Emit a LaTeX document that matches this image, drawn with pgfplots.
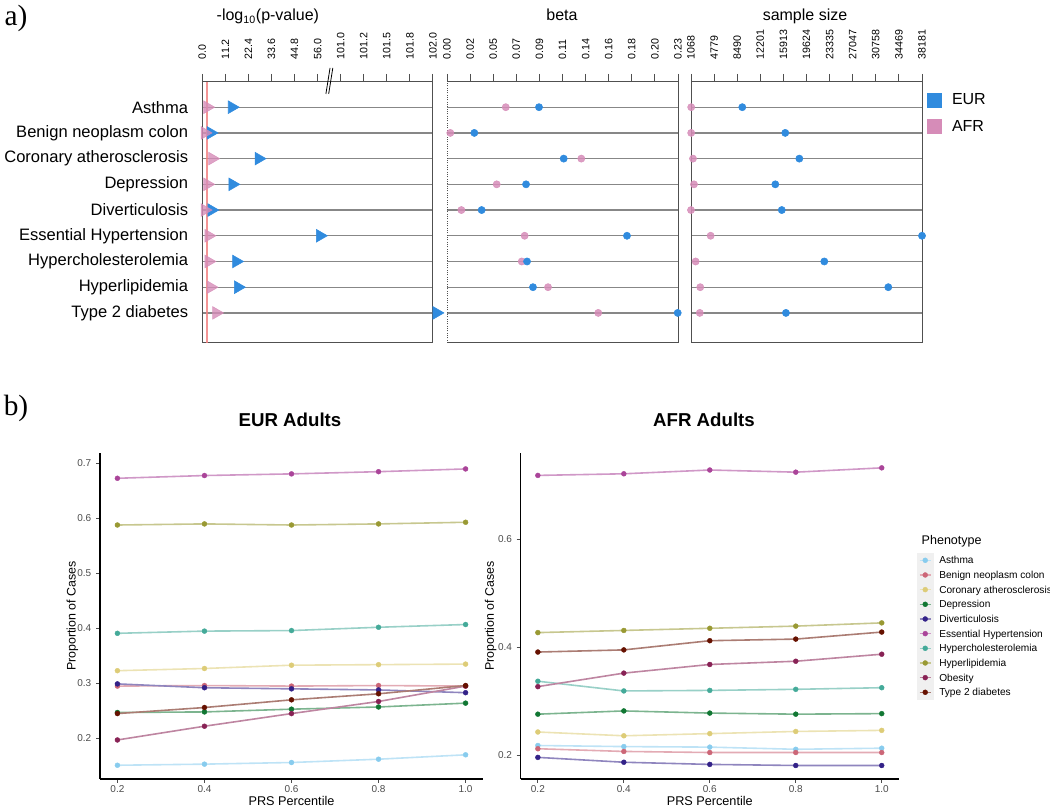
\documentclass[border=0pt]{standalone}
\usepackage{pgfplots}
\pgfplotsset{compat=1.18}
\usepackage{pgfplotstable}
\usepackage{fontspec}
\setmainfont{Liberation Sans}
\newfontfamily\serifa{Liberation Serif}
\newcommand\fs[1]{\fontsize{#1}{#1}\selectfont}
\definecolor{eurblue}{RGB}{48,139,222}
\definecolor{afrpink}{RGB}{214,140,184}
\definecolor{thr}{RGB}{242,130,130}
\definecolor{cA}{HTML}{88CCEE}
\definecolor{cB}{HTML}{CC6677}
\definecolor{cC}{HTML}{DDCC77}
\definecolor{cD}{HTML}{117733}
\definecolor{cE}{HTML}{332288}
\definecolor{cF}{HTML}{AA4499}
\definecolor{cG}{HTML}{44AA99}
\definecolor{cH}{HTML}{999933}
\definecolor{cI}{HTML}{882255}
\definecolor{cJ}{HTML}{661100}
\definecolor{gridc}{RGB}{135,135,135}
\definecolor{boxc}{RGB}{80,80,80}

% y: 9 = Asthma ... 1 = Type 2 diabetes
\pgfplotstableread{
y peur pafr beur bafr neur nafr
9 14.4 2.5 0.0916 0.0585 9307 1100
8 4.1 1.2 0.0272 0.0033 16210 1100
7 27.4 4.9 0.1162 0.1337 18474 1390
6 14.7 2.5 0.0787 0.0495 14614 1550
5 4.5 1.2 0.0345 0.0143 15653 1068
4 57.2 3.1 0.1792 0.0773 38181 4223
3 16.5 3.1 0.0797 0.0744 22482 1810
2 17.4 4.1 0.0856 0.1006 32763 2553
1 102.04 6.8 0.2297 0.1506 16321 2478
}\topdata

\pgfplotstableread{
x a b c d e f g h i j
0.2 0.151 0.295 0.323 0.247 0.299 0.673 0.391 0.588 0.197 0.245
0.4 0.153 0.296 0.327 0.248 0.292 0.678 0.395 0.590 0.222 0.256
0.6 0.156 0.295 0.333 0.253 0.290 0.681 0.396 0.588 0.245 0.270
0.8 0.162 0.296 0.334 0.257 0.288 0.685 0.402 0.590 0.267 0.281
1.0 0.170 0.295 0.335 0.264 0.283 0.690 0.407 0.593 0.295 0.296
}\eur

\pgfplotstableread{
x a b c d e f g h i j
0.2 0.218 0.212 0.243 0.276 0.196 0.718 0.337 0.427 0.327 0.391
0.4 0.216 0.207 0.236 0.282 0.187 0.721 0.319 0.431 0.352 0.395
0.6 0.215 0.205 0.240 0.278 0.183 0.728 0.320 0.435 0.368 0.412
0.8 0.211 0.205 0.244 0.276 0.181 0.724 0.322 0.439 0.374 0.415
1.0 0.213 0.205 0.246 0.277 0.181 0.732 0.325 0.445 0.387 0.428
}\afr

\pgfplotsset{
  toppanel/.style={
    scale only axis, width=173.25pt, height=195.75pt, anchor=south west,
    ymin=-0.17, ymax=9.98, ytick={1,...,9},
    ymajorgrids, grid style={gridc, line width=0.95pt},
    major y tick style={draw=none},
    axis line style={boxc, line width=0.75pt},
    xtick pos=upper, xticklabel pos=upper,
    tick align=outside, major tick length=6pt,
    major x tick style={boxc, line width=0.75pt},
    xticklabel shift=11pt,
    xticklabel style={rotate=90, anchor=west, inner sep=0pt, font=\fs{8}},
    scaled x ticks=false,
    clip=false,
    /pgf/number format/assume math mode=true,
  },
  pl/.style={draw=#1!55!white, line width=1.2pt, mark=*, mark size=1.85pt,
    mark options={draw=#1, fill=#1, line width=0.3pt}},
  botpanel/.style={
    scale only axis, anchor=south west,
    axis lines*=left, axis line style={-, black, line width=0.8pt},
    tick align=outside, major tick length=3pt, tick style={black!70, line width=0.6pt},
    xmin=0.16, xmax=1.04, xtick={0.2,0.4,0.6,0.8,1.0},
    ticklabel style={font=\fs{7.5}, text=black!70},
    xticklabel style={yshift=1.5pt, /pgf/number format/.cd, fixed, fixed zerofill, precision=1},
    yticklabel style={/pgf/number format/.cd, fixed, fixed zerofill, precision=1},
    /pgf/number format/assume math mode=true,
    xlabel={PRS Percentile}, ylabel={Proportion of Cases},
    xlabel style={font=\fs{9.5}, at={(axis description cs:0.5,-0.066)}, anchor=center},
    ylabel style={font=\fs{9.3}},
    clip=false,
  },
}

\begin{document}
\begin{tikzpicture}
\path[use as bounding box] (0,0) rectangle (787.5pt,604.5pt);

\node[font=\serifa\fs{22}] at (12pt,591pt) {a)};
\node[font=\serifa\fs{22}] at (12pt,298.5pt) {b)};
\node[font=\fs{12}, anchor=base west] at (159pt,589pt) {-log\textsubscript{10}(p-value)};
\node[font=\fs{12}, anchor=base] at (421.5pt,589pt) {beta};
\node[font=\fs{12}, anchor=base] at (603.75pt,589pt) {sample size};

% Panel 1: -log10(p-value), broken axis plotted on index scale
\begin{axis}[toppanel, at={(151.7pt,347.25pt)}, width=173pt,
  xmin=0, xmax=10, xtick={0,...,10},
  xticklabels={0.0,11.2,22.4,33.6,44.8,56.0,101.0,101.2,101.5,101.8,102.0},
  yticklabels={Type 2 diabetes,Hyperlipidemia,Hypercholesterolemia,Essential Hypertension,Diverticulosis,Depression,Coronary atherosclerosis,Benign neoplasm colon,Asthma},
  yticklabel style={font=\fs{12.4}, anchor=east, inner sep=0pt, xshift=-4.4pt},
]
\addplot[only marks, color=eurblue, mark=triangle*, mark size=5.5pt, mark options={rotate=-90}]
  table[x expr={\thisrow{peur}<80 ? \thisrow{peur}/11.2 : 6+(\thisrow{peur}-101)/0.25}, y=y] {\topdata};
\addplot[only marks, color=afrpink, opacity=0.8, mark=triangle*, mark size=5.5pt, mark options={rotate=-90}]
  table[x expr={\thisrow{pafr}<80 ? \thisrow{pafr}/11.2 : 6+(\thisrow{pafr}-101)/0.25}, y=y] {\topdata};
\addplot[thr, line width=1.5pt, opacity=0.85] coordinates {(0.1875,-0.17) (0.1875,9.98)};
\draw[black, line width=0.6pt] (axis cs:5.36,9.515) -- (axis cs:5.54,10.53);
\draw[black, line width=0.6pt] (axis cs:5.48,9.515) -- (axis cs:5.66,10.53);
\end{axis}

% Panel 2: beta
\begin{axis}[toppanel, at={(335.25pt,347.25pt)},
  xmin=0, xmax=0.23,
  xtick={0,0.023,0.046,0.069,0.092,0.115,0.138,0.161,0.184,0.207,0.23},
  xticklabels={0.00,0.02,0.05,0.07,0.09,0.11,0.14,0.16,0.18,0.20,0.23},
  yticklabels={}, axis line style={draw=none},
]
\draw[boxc, line width=0.75pt] (rel axis cs:0,1) -- (rel axis cs:1,1) -- (rel axis cs:1,0) -- (rel axis cs:0,0);
\draw[boxc, line width=0.75pt, densely dotted] (rel axis cs:0,0) -- (rel axis cs:0,1);
\addplot[only marks, color=afrpink, opacity=0.85, mark=*, mark size=2.7pt] table[x=bafr, y=y] {\topdata};
\addplot[only marks, color=eurblue, mark=*, mark size=2.7pt] table[x=beur, y=y] {\topdata};
\end{axis}

% Panel 3: sample size
\begin{axis}[toppanel, at={(518.25pt,347.25pt)},
  xmin=1068, xmax=38181,
  xtick={1068,4779.3,8490.6,12201.9,15913.2,19624.5,23335.8,27047.1,30758.4,34469.7,38181},
  xticklabels={1068,4779,8490,12201,15913,19624,23335,27047,30758,34469,38181},
  yticklabels={},
  legend style={at={(rel axis cs:1.0216,0.958)}, anchor=north west, draw=none, fill=none,
    inner sep=0pt, outer sep=0pt, row sep=8.6pt, column sep=7.5pt,
    nodes={inner sep=0pt, anchor=west, font=\fs{12}}},
  legend cell align=left,
  legend image code/.code={\fill[#1, draw=none] (0pt,-5.63pt) rectangle (11.25pt,5.63pt);},
]
\addplot[forget plot, only marks, color=afrpink, opacity=0.85, mark=*, mark size=2.7pt] table[x=nafr, y=y] {\topdata};
\addplot[forget plot, only marks, color=eurblue, mark=*, mark size=2.7pt] table[x=neur, y=y] {\topdata};
\addlegendimage{color=eurblue}\addlegendentry{EUR}
\addlegendimage{color=afrpink}\addlegendentry{AFR}
\end{axis}

\node[font=\bfseries\fs{14}] at (217.5pt,289.5pt) {EUR Adults};
\node[font=\bfseries\fs{14}] at (528pt,289.5pt) {AFR Adults};

% EUR Adults
\begin{axis}[botpanel, at={(75pt,20.25pt)}, width=287.25pt, height=244.5pt,
  ymin=0.126, ymax=0.719, ytick={0.2,0.3,0.4,0.5,0.6,0.7},
  ylabel style={at={(axis description cs:-0.0718,0.5)}, anchor=center},
]
\addplot[pl=cA] table[x=x, y=a] {\eur};
\addplot[pl=cB] table[x=x, y=b] {\eur};
\addplot[pl=cC] table[x=x, y=c] {\eur};
\addplot[pl=cD] table[x=x, y=d] {\eur};
\addplot[pl=cE] table[x=x, y=e] {\eur};
\addplot[pl=cF] table[x=x, y=f] {\eur};
\addplot[pl=cG] table[x=x, y=g] {\eur};
\addplot[pl=cH] table[x=x, y=h] {\eur};
\addplot[pl=cI] table[x=x, y=i] {\eur};
\addplot[pl=cJ] table[x=x, y=j] {\eur};
\end{axis}

% AFR Adults
\begin{axis}[botpanel, at={(390.5pt,20.25pt)}, width=283.7pt, height=244.3pt,
  ymin=0.156, ymax=0.759, ytick={0.2,0.4,0.6},
  ylabel style={at={(axis description cs:-0.079,0.5)}, anchor=center},
  legend style={at={(rel axis cs:1.0476,0.6939)}, anchor=north west, draw=none, fill=none,
    inner sep=0pt, outer sep=0pt, row sep=0pt, column sep=4.3pt,
    nodes={inner sep=0pt, outer sep=0pt, anchor=west, font=\fs{7.6}, text height=7.5pt, text depth=2.3pt}},
  legend cell align=left,
  legend image code/.code={
    \fill[black!6] (-1.5pt,-4.9pt) rectangle (9.75pt,4.9pt);
    \draw[mark repeat=2, mark phase=2, #1] plot coordinates {(0pt,0pt) (4.125pt,0pt) (8.25pt,0pt)};
  },
]
\addplot[pl=cA] table[x=x, y=a] {\afr}; \addlegendentry{Asthma}
\addplot[pl=cB] table[x=x, y=b] {\afr}; \addlegendentry{Benign neoplasm colon}
\addplot[pl=cC] table[x=x, y=c] {\afr}; \addlegendentry{Coronary atherosclerosis}
\addplot[pl=cD] table[x=x, y=d] {\afr}; \addlegendentry{Depression}
\addplot[pl=cE] table[x=x, y=e] {\afr}; \addlegendentry{Diverticulosis}
\addplot[pl=cF] table[x=x, y=f] {\afr}; \addlegendentry{Essential Hypertension}
\addplot[pl=cG] table[x=x, y=g] {\afr}; \addlegendentry{Hypercholesterolemia}
\addplot[pl=cH] table[x=x, y=h] {\afr}; \addlegendentry{Hyperlipidemia}
\addplot[pl=cI] table[x=x, y=i] {\afr}; \addlegendentry{Obesity}
\addplot[pl=cJ] table[x=x, y=j] {\afr}; \addlegendentry{Type 2 diabetes}
\end{axis}

\node[font=\fs{9.4}, anchor=base west] at (687.75pt,196pt) {Phenotype};
\end{tikzpicture}
\end{document}
